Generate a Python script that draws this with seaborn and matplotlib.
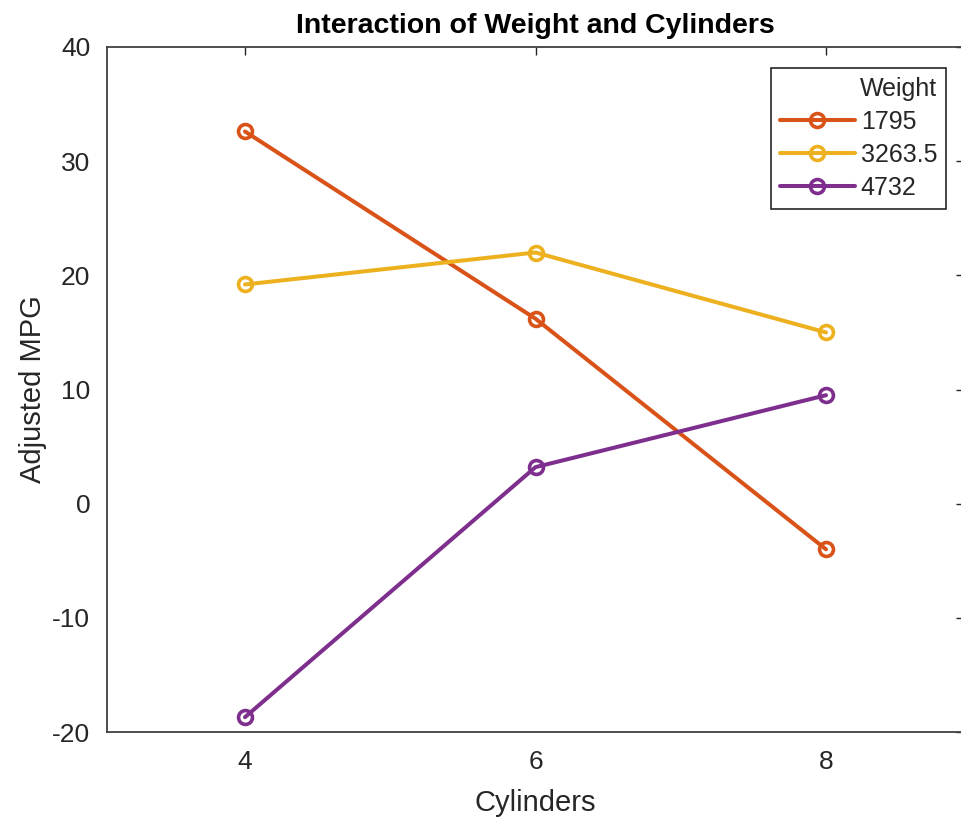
import pandas as pd
import seaborn as sns
import matplotlib.pyplot as plt

sns.set_theme(style="white")
plt.rcParams['font.family'] = ['Liberation Sans', 'DejaVu Sans']
plt.rcParams['axes.unicode_minus'] = False

# data
cylinders = [4, 6, 8]
weights = ['1795', '3263.5', '4732']
mpg_1795 = [32.6, 16.2, -4.0]
mpg_3263 = [19.2, 22.0, 15.0]
mpg_4732 = [-18.7, 3.2, 9.5]
colors = ['#D95319', '#EDB120', '#7E2F8E']

df = pd.DataFrame({
    'Cylinders': cylinders * 3,
    'MPG': mpg_1795 + mpg_3263 + mpg_4732,
    'Weight': [w for w in weights for _ in cylinders],
})

fig = plt.figure(figsize=(9.61, 8.17), dpi=100)
ax = fig.add_axes([107 / 961, 85 / 817, 857 / 961, 685 / 817])

sns.lineplot(data=df, x='Cylinders', y='MPG', hue='Weight', hue_order=weights,
             palette=colors, marker='o', markersize=10, linewidth=2.9,
             legend=False, ax=ax)

# open circle markers in the line colour
for line in ax.lines:
    line.set_markerfacecolor('none')
    line.set_markeredgecolor(line.get_color())
    line.set_markeredgewidth(2.6)

ax.set_xlim(3.05, 8.95)
ax.set_ylim(-20, 40)
ax.set_xticks([4, 6, 8])
ax.set_yticks(range(-20, 41, 10))
ax.tick_params(direction='in', top=True, right=True, length=6, width=1,
               colors='#262626', labelsize=19, labelcolor='#262626')
ax.tick_params(axis='x', pad=13)
ax.tick_params(axis='y', pad=12)
for s in ax.spines.values():
    s.set_color('#404040')
    s.set_linewidth(1.3)

ax.set_xlabel('Cylinders', fontsize=21, color='#262626', labelpad=11)
ax.set_ylabel('Adjusted MPG', fontsize=21, color='#262626', labelpad=4)
ax.set_title('Interaction of Weight and Cylinders', fontsize=20.5,
             fontweight='bold', color='black', pad=10)

leg = ax.legend(ax.lines[:3], weights, title='Weight', loc='upper right',
                alignment='right', bbox_to_anchor=(946 / 961, 1 - 68 / 817),
                bbox_transform=fig.transFigure, borderaxespad=0,
                fancybox=False, framealpha=1, fontsize=18, title_fontsize=18,
                handlelength=3.0, handletextpad=0.25, labelspacing=0.36,
                borderpad=0.35)
leg.get_frame().set_edgecolor('#262626')
leg.get_frame().set_linewidth(1.2)

fig.savefig('out.png', dpi=100)
